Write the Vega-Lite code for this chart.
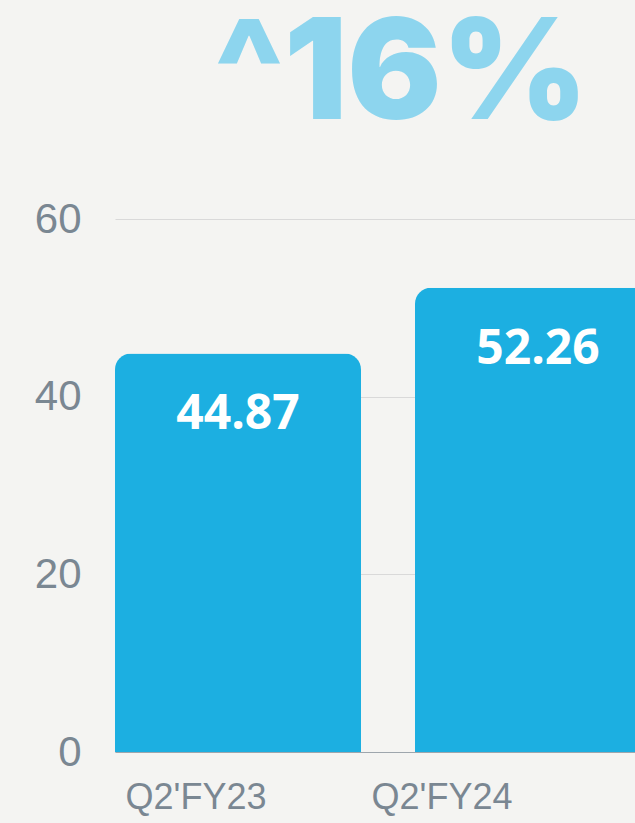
{
  "$schema": "https://vega.github.io/schema/vega-lite/v6.json",
  "autosize": "none",
  "width": 546,
  "height": 533,
  "padding": {"left": 115, "top": 219, "right": 0, "bottom": 71},
  "background": "#f4f4f2",
  "title": {
    "text": "^16%",
    "font": "Inter",
    "fontWeight": 900,
    "fontSize": 140,
    "color": "#8DD5EE",
    "anchor": "middle",
    "frame": "group",
    "baseline": "alphabetic",
    "offset": -61,
    "dx": 13
  },
  "data": {
    "values": [
      {"quarter": "Q2'FY23", "value": 44.87},
      {"quarter": "Q2'FY24", "value": 52.26}
    ]
  },
  "config": {
    "view": {"stroke": null},
    "axis": {"labelFont": "Liberation Sans", "labelColor": "#7A8792", "ticks": false, "title": null}
  },
  "encoding": {
    "x": {
      "field": "quarter",
      "type": "nominal",
      "sort": null,
      "scale": {"paddingInner": 0.18, "paddingOuter": 0},
      "axis": {
        "labelAngle": 0,
        "labelFontSize": 36,
        "labelPadding": 28,
        "labelOffset": {"condition": {"test": "datum.value === \"Q2'FY23\"", "value": -42}, "value": -96},
        "domain": true,
        "domainColor": "#9EA6AD",
        "domainWidth": 1,
        "grid": false
      }
    },
    "y": {
      "field": "value",
      "type": "quantitative",
      "scale": {"domain": [0, 60], "nice": false},
      "axis": {
        "values": [0, 20, 40, 60],
        "labelFontSize": 42,
        "labelPadding": 34,
        "domain": false,
        "grid": true,
        "gridColor": "#D9D9D9",
        "gridWidth": 1
      }
    }
  },
  "layer": [
    {
      "mark": {"type": "bar", "color": "#1CAFE1", "cornerRadiusTopLeft": 16, "cornerRadiusTopRight": 16}
    },
    {
      "mark": {"type": "text", "color": "#FFFFFF", "font": "Open Sans", "fontWeight": "bold", "fontSize": 48, "baseline": "alphabetic", "dy": 76},
      "encoding": {"text": {"field": "value", "type": "quantitative", "format": ".2f"}}
    }
  ]
}
